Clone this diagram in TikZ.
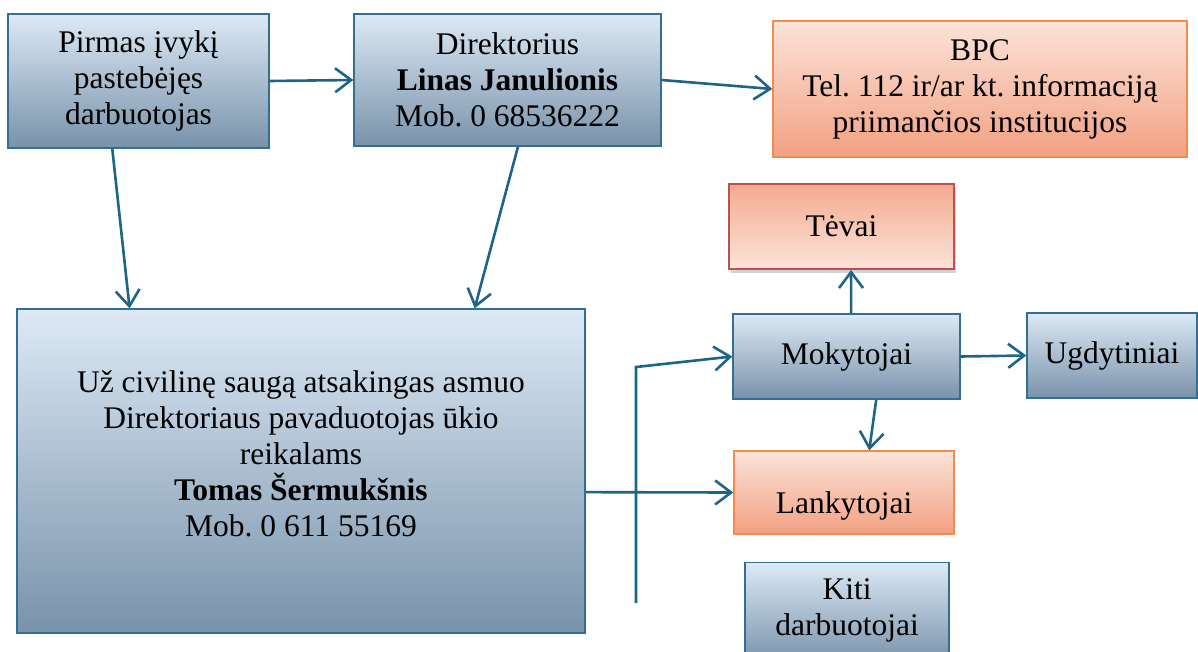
\documentclass[tikz,border=0pt]{standalone}
\usepackage{fontspec}
\setmainfont{Liberation Serif}
\frenchspacing
\usetikzlibrary{arrows.meta,calc,shadows}
\definecolor{bluetop}{RGB}{221,233,245}
\definecolor{bluebot}{RGB}{120,146,170}
\definecolor{blueedge}{RGB}{49,112,146}
\definecolor{ortop}{RGB}{251,228,216}
\definecolor{orbot}{RGB}{242,160,130}
\definecolor{oredge}{RGB}{240,140,80}
\definecolor{redge}{RGB}{192,80,77}
\definecolor{arrowc}{RGB}{30,100,138}
\tikzset{
  bluebox/.style={draw=blueedge, line width=1.4pt, top color=bluetop, bottom color=bluebot, align=center, inner sep=0pt},
  orbox/.style={draw=oredge, line width=1.4pt, top color=ortop, bottom color=orbot, align=center, inner sep=0pt},
  redbox/.style={draw=redge, line width=1.8pt, top color=orbot!85!ortop, bottom color=ortop, align=center, inner sep=0pt,
    drop shadow={shadow xshift=2pt, shadow yshift=-4pt, opacity=0.35}},
  conn/.style={draw=arrowc, line width=2.6pt, -{Straight Barb[length=16pt,width=24pt,line width=2.6pt]}},
}
\begin{document}
\begin{tikzpicture}[x=1pt,y=-1pt,font=\fontsize{31.5}{36}\selectfont]
\useasboundingbox (0,0) rectangle (1198,651);
\clip (0,0) rectangle (1198,651);
\node[bluebox, minimum width=261pt, minimum height=134pt] (b1) at (138.5,81) {Pirmas įvykį\\pastebėjęs\\darbuotojas};
\node[bluebox, minimum width=307pt, minimum height=132pt] (b2) at (507.5,80) {Direktorius\\\textbf{Linas Janulionis}\\Mob. 0 68536222};
\node[orbox, minimum width=414pt, minimum height=136pt] (bpc) at (980,89) {BPC\\Tel. 112 ir/ar kt. informaciją\\priimančios institucijos};
\node[redbox, minimum width=225pt, minimum height=85pt] (tev) at (841.5,226.5) {Tėvai};
\node[bluebox, minimum width=227pt, minimum height=85pt] (mok) at (846.5,356.5) {Mokytojai};
\node[bluebox, minimum width=170pt, minimum height=85pt] (ugd) at (1112,355.5) {Ugdytiniai};
\node[orbox, minimum width=220pt, minimum height=83pt] (lank) at (844,492.5) {};
\node (lanktxt) at (844,506) {Lankytojai};
\node[bluebox, minimum width=204pt, minimum height=100pt, anchor=north] (kiti) at (847,562) {};
\node (kititxt) at (847,610) [align=center] {Kiti\\darbuotojai};
\node[bluebox, minimum width=568pt, minimum height=324pt] (big) at (301,471) {};
\node (bigtxt) at (301,454) [align=center] {Už civilinę saugą atsakingas asmuo\\Direktoriaus pavaduotojas ūkio\\reikalams\\\textbf{Tomas Šermukšnis}\\Mob. 0 611 55169};
\coordinate (p0) at (636,603);
\coordinate (p1) at (636,367);
\draw[conn] (b1.east) -- (b2.west);
\draw[conn] ($(b1.south west)!0.40!(b1.south east)$) -- ($(big.north west)!0.199!(big.north east)$);
\draw[conn] ($(b2.south west)!0.534!(b2.south east)$) -- ($(big.north west)!0.805!(big.north east)$);
\draw[conn] (b2.east) -- (bpc.west);
\draw[conn] ($(mok.north west)!0.52!(mok.north east)$) -- ($(tev.south west)!0.542!(tev.south east)$);
\draw[conn] (mok.east) -- (ugd.west);
\draw[conn] ($(mok.south west)!0.63!(mok.south east)$) -- ($(lank.north west)!0.614!(lank.north east)$);
\draw[conn] ($(big.north east)!0.565!(big.south east)$) -- (lank.west);
\draw[conn] (p0) -- (p1) -- (mok.west);
\end{tikzpicture}
\end{document}
